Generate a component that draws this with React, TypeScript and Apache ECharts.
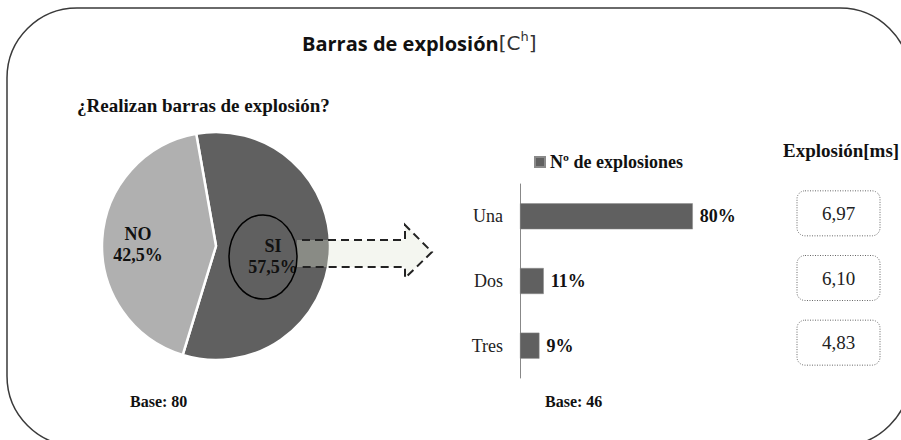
import React, { useEffect, useRef } from "react";
import * as echarts from "echarts";

const pieNames = ["SI", "NO"];
const pieValues = [57.5, 42.5];
const barCategories = ["Una", "Dos", "Tres"];
const barValues = [80, 11, 9];
const explosionMs = ["6,97", "6,10", "4,83"];
const pieBase = "Base: 80";
const barBase = "Base: 46";

const SERIF = "'Liberation Serif', 'Times New Roman', serif";

export default function App() {
  const ref = useRef<HTMLDivElement>(null);
  useEffect(() => {
    document.body.style.margin = "0";
    if (!ref.current) return;
    const chart = echarts.init(ref.current, null, { renderer: "svg" });
    const fmt = (v: number) => v.toFixed(1).replace(".", ",") + "%";
    chart.setOption({
      animation: false,
      backgroundColor: "#ffffff",
      legend: {
        left: 529,
        top: 148,
        itemWidth: 10,
        itemHeight: 10,
        icon: "rect",
        data: ["Nº de explosiones"],
        textStyle: { fontFamily: SERIF, fontWeight: "bold", fontSize: 18, color: "#111" },
      },
      grid: { left: 520, top: 184, width: 216, height: 194 },
      xAxis: { type: "value", min: 0, max: 100, show: false },
      yAxis: {
        type: "category",
        data: barCategories,
        inverse: true,
        axisLine: { show: true, lineStyle: { color: "#888", width: 1 } },
        axisTick: { show: false },
        axisLabel: { fontFamily: SERIF, fontSize: 18, color: "#222", margin: 17 },
        splitLine: { show: false },
      },
      series: [
        {
          type: "pie",
          center: [216, 246],
          radius: 114,
          startAngle: 100,
          clockwise: true,
          color: ["#606060", "#b0b0b0"],
          itemStyle: { borderColor: "#ffffff", borderWidth: 2.5 },
          label: {
            show: true,
            position: "inside",
            formatter: (p: any) => `${p.name}\n${fmt(p.value)}`,
            fontFamily: SERIF,
            fontWeight: "bold",
            fontSize: 18,
            lineHeight: 21,
            color: "#111",
          },
          labelLayout: (p: any) => (p.dataIndex === 1 ? { dx: -18, dy: 2 } : { dx: -3, dy: 7 }),
          emphasis: { disabled: true },
          data: pieNames.map((n, i) => ({ name: n, value: pieValues[i] })),
          z: 1,
        },
        {
          type: "bar",
          name: "Nº de explosiones",
          data: barValues,
          barWidth: 26,
          itemStyle: { color: "#606060", borderColor: "#8a8a8a", borderWidth: 0.5 },
          label: {
            show: true,
            position: "right",
            distance: 7,
            formatter: "{c}%",
            fontFamily: SERIF,
            fontWeight: "bold",
            fontSize: 18,
            color: "#111",
          },
        },
        {
          type: "custom",
          clip: false,
          data: explosionMs.map((v, i) => [0, i, v]),
          encode: { x: 0, y: 1 },
          renderItem: (params: any, api: any) => {
            const y = api.coord([0, api.value(1)])[1] - 3;
            const txt = explosionMs[params.dataIndex];
            return {
              type: "group",
              children: [
                {
                  type: "rect",
                  shape: { x: 797, y: y - 22.5, width: 83, height: 45, r: 8 },
                  style: { fill: "#ffffff", stroke: "#666", lineWidth: 1, lineDash: [1, 1.5] },
                },
                {
                  type: "text",
                  x: 838.5,
                  y: y,
                  style: {
                    text: txt,
                    fontFamily: SERIF,
                    fontSize: 19,
                    fill: "#222",
                    align: "center",
                    verticalAlign: "middle",
                  },
                },
              ],
            };
          },
        },
      ],
      graphic: [
        {
          type: "rect",
          z: 0,
          shape: { x: 7, y: 8, width: 903, height: 438, r: 70 },
          style: { fill: "none", stroke: "#3a3a3a", lineWidth: 1.5 },
        },
        {
          type: "text",
          z: 100,
          left: 302,
          top: 30,
          style: {
            text: "{t|Barras de explosión}{b|[C}{s|h}{b|]}",
            rich: {
              t: { fontFamily: "'Open Sans', sans-serif", fontWeight: "bold", fontSize: 20, fill: "#111", verticalAlign: "bottom" },
              b: { fontFamily: "'DejaVu Sans', sans-serif", fontWeight: "normal", fontSize: 20, fill: "#333", verticalAlign: "bottom" },
              s: { fontFamily: "'DejaVu Sans', sans-serif", fontSize: 13, fill: "#333", verticalAlign: "top", padding: [0, 0, 10, 0] },
            },
          },
        },
        {
          type: "text",
          z: 100,
          left: 77,
          top: 96,
          style: { text: "¿Realizan barras de explosión?", fontFamily: SERIF, fontWeight: "bold", fontSize: 19, fill: "#111" },
        },
        {
          type: "text",
          z: 100,
          left: 783,
          top: 141,
          style: { text: "Explosión[ms]", fontFamily: SERIF, fontWeight: "bold", fontSize: 19, fill: "#111" },
        },
        {
          type: "text",
          z: 100,
          left: 130,
          top: 393,
          style: { text: pieBase, fontFamily: SERIF, fontWeight: "bold", fontSize: 16, fill: "#111" },
        },
        {
          type: "text",
          z: 100,
          left: 545,
          top: 393,
          style: { text: barBase, fontFamily: SERIF, fontWeight: "bold", fontSize: 16, fill: "#111" },
        },
        {
          type: "ellipse",
          z: 100,
          shape: { cx: 263, cy: 257, rx: 34, ry: 42 },
          style: { fill: "none", stroke: "#000", lineWidth: 1.5 },
        },
        {
          type: "polygon",
          z: 99,
          shape: { points: [[297, 240], [405, 240], [405, 225], [432, 252], [405, 278], [405, 267], [297, 267]] },
          style: { fill: "rgba(222,228,210,0.33)", stroke: "none" },
        },
        {
          type: "polyline",
          z: 100,
          shape: { points: [[302, 240], [405, 240], [405, 225], [432, 252], [405, 278], [405, 267], [302, 267]] },
          style: { fill: "none", stroke: "#222", lineWidth: 2, lineDash: [8, 5] },
        },
      ],
    });
    return () => chart.dispose();
  }, []);
  return <div ref={ref} style={{ width: 901, height: 440 }} />;
}
